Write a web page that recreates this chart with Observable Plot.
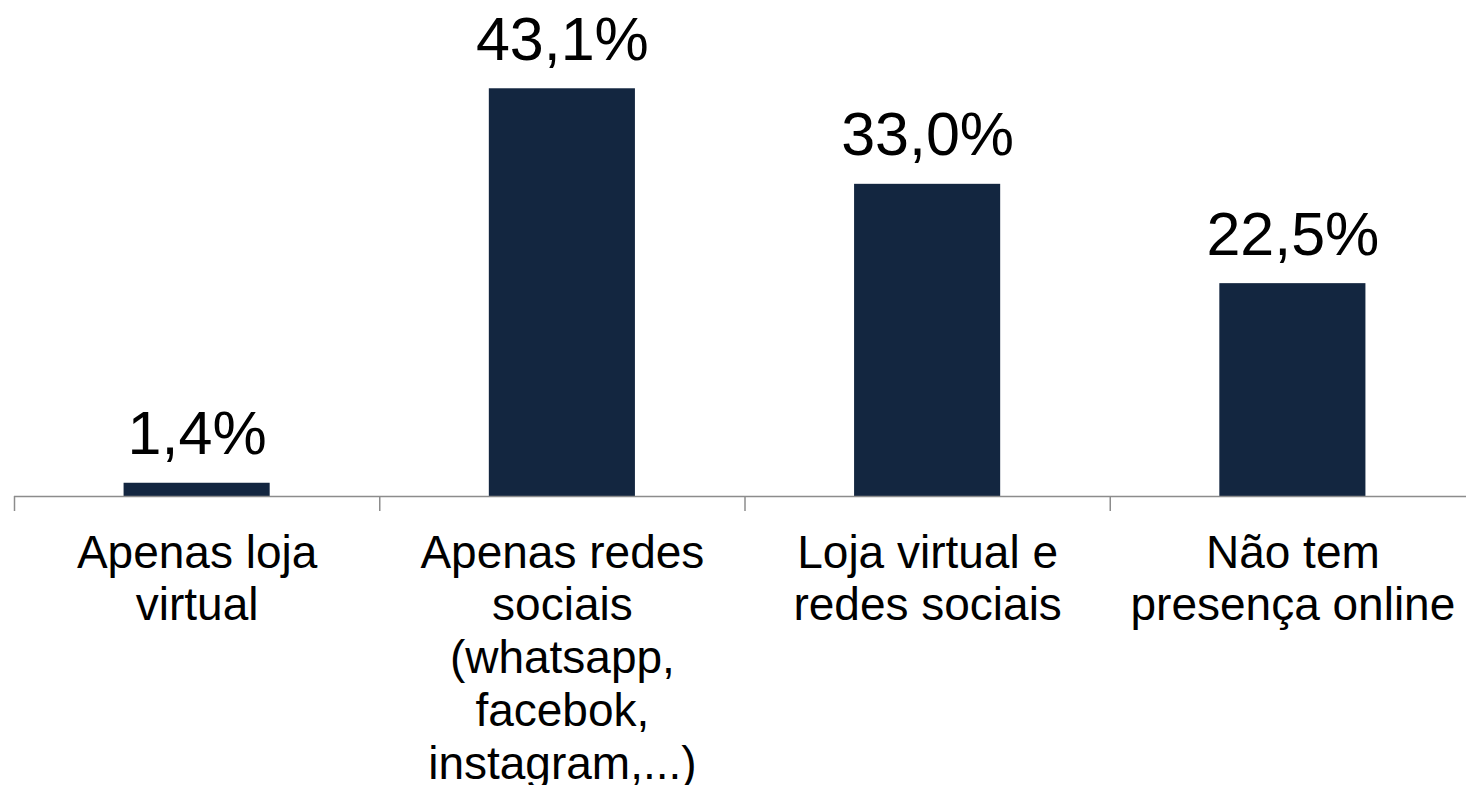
<!DOCTYPE html>
<html>
<head>
<meta charset="utf-8">
<script src="https://cdn.jsdelivr.net/npm/d3@7"></script>
<script src="https://cdn.jsdelivr.net/npm/@observablehq/plot@0.6"></script>
<style>
  html, body { margin: 0; padding: 0; background: #ffffff; overflow: hidden; }
  #chart svg { display: block; }
</style>
</head>
<body>
<div id="chart"></div>
<script>
const categories = [
  "Apenas loja\nvirtual",
  "Apenas redes\nsociais\n(whatsapp,\nfacebok,\ninstagram,...)",
  "Loja virtual e\nredes sociais",
  "Não tem\npresença online"
];
const values = [1.4, 43.1, 33.0, 22.5];
const valueLabels = ["1,4%", "43,1%", "33,0%", "22,5%"];
const tickPositions = [0, 1, 2, 3, 4];

const rows = categories.map((c, i) => ({
  idx: i,
  category: c,
  value: values[i],
  label: valueLabels[i]
}));

const font = "'Liberation Sans', Arial, sans-serif";

const chart = Plot.plot({
  width: 1466,
  height: 785,
  marginLeft: 14,
  marginRight: -9,
  marginTop: 23,
  marginBottom: 289,
  style: { fontFamily: font, background: "#ffffff", color: "#000" },
  x: { domain: [0, 4], axis: null },
  y: { domain: [0, 50], axis: null },
  marks: [
    Plot.rectY(rows, {
      x1: d => d.idx + 0.3,
      x2: d => d.idx + 0.7,
      y1: 0,
      y2: "value",
      fill: "#132640"
    }),
    Plot.ruleY([0], { stroke: "#8c8c8c", strokeWidth: 1.5 }),
    Plot.axisX({
      ticks: tickPositions,
      tickSize: 15,
      tickFormat: () => "",
      stroke: "#8c8c8c",
      strokeWidth: 1.5
    }),
    Plot.text(rows, {
      x: d => d.idx + 0.5,
      y: "value",
      text: "label",
      dy: -29,
      lineAnchor: "bottom",
      fontSize: 61,
      fill: "#000"
    }),
    Plot.text(rows, {
      x: d => d.idx + 0.5,
      y: 0,
      text: "category",
      dy: 33.5,
      lineAnchor: "top",
      lineHeight: 1.148,
      fontSize: 46,
      fill: "#000"
    })
  ]
});

document.getElementById("chart").appendChild(chart);
</script>
</body>
</html>
